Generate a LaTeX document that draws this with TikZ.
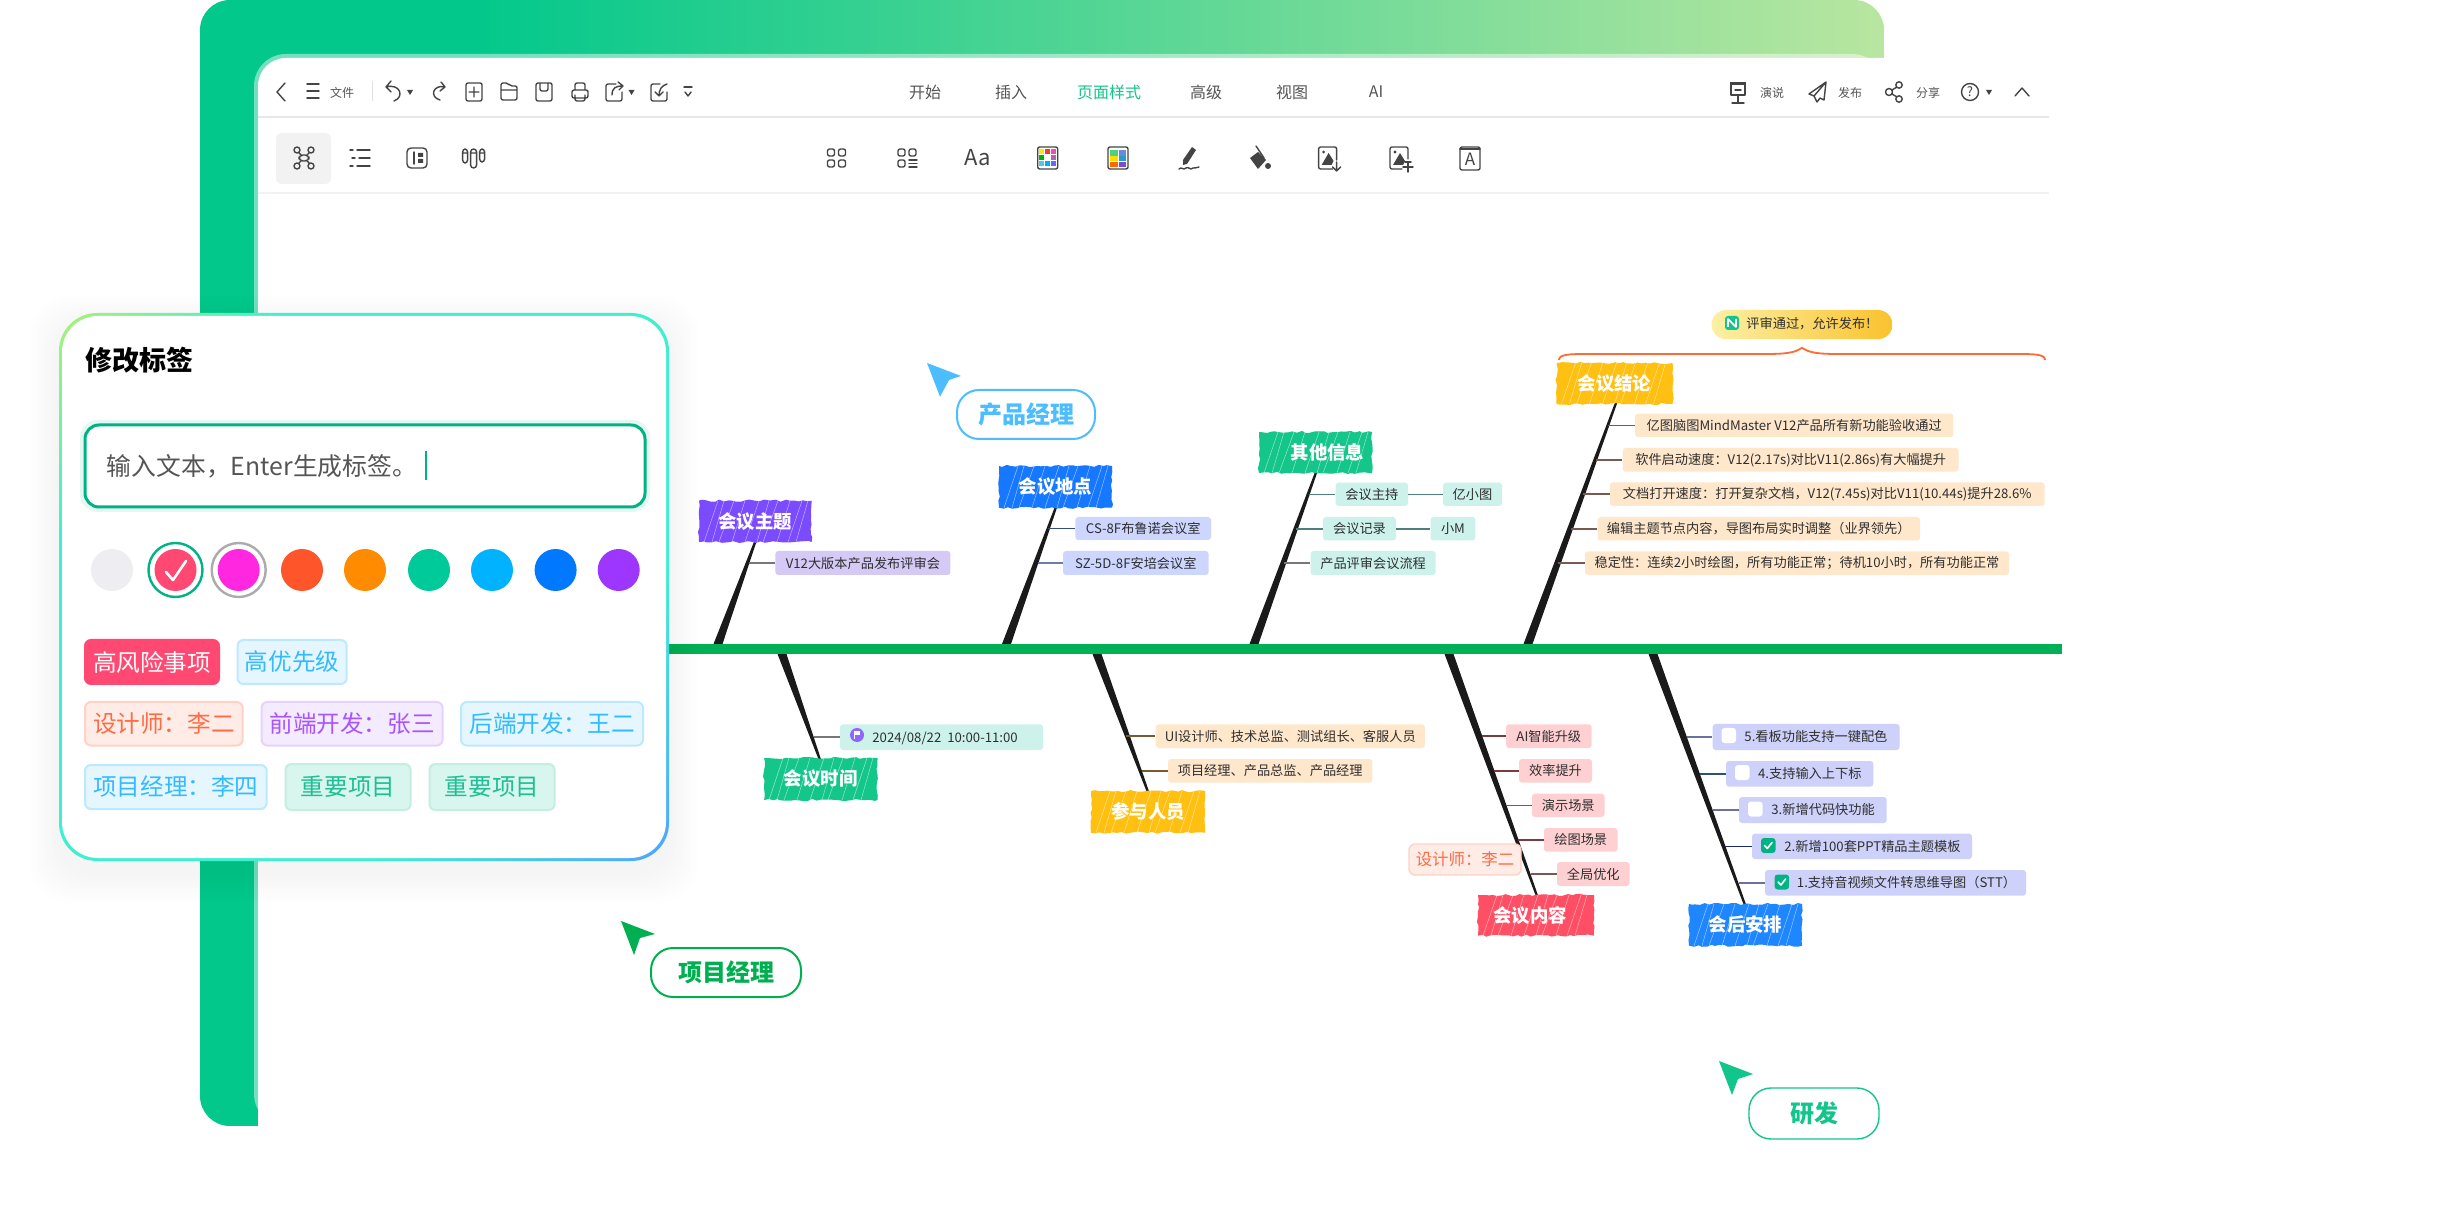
\documentclass[tikz,border=0pt]{standalone}
\usepackage{fontspec}
\setmainfont{Noto Sans CJK SC}
\usetikzlibrary{calc,decorations.pathmorphing}
\definecolor{bandA}{HTML}{02C88B}
\definecolor{bandB}{HTML}{B8E6A0}
\definecolor{edgeA}{HTML}{A8F07A}
\definecolor{edgeB}{HTML}{3FF0CF}
\definecolor{edgeC}{HTML}{4DA6FF}
\definecolor{icongrey}{HTML}{444444}
\definecolor{tbtext}{HTML}{555555}
\definecolor{fresh}{HTML}{00B383}
\definecolor{spine}{HTML}{00B056}
\definecolor{ribblack}{HTML}{1A1A1A}
\definecolor{purpleT}{HTML}{7B4BFF}
\definecolor{blueT}{HTML}{1677FF}
\definecolor{greenT}{HTML}{14C68A}
\definecolor{yellowT}{HTML}{FFC011}
\definecolor{redT}{HTML}{FF4F64}
\definecolor{blueU}{HTML}{1E86FF}
\definecolor{fPurple}{HTML}{D4CAF5}
\definecolor{fBlue}{HTML}{CCD6FF}
\definecolor{fTeal}{HTML}{CDF2EC}
\definecolor{fPeach}{HTML}{FFE7CC}
\definecolor{fPink}{HTML}{FFD0D2}
\definecolor{fLav}{HTML}{CED2FA}
\definecolor{lkGrey}{HTML}{777777}
\definecolor{lkNavy}{HTML}{334D80}
\definecolor{lkSlate}{HTML}{6A7FA8}
\definecolor{lkTeal}{HTML}{4F7F7A}
\definecolor{lkBrown}{HTML}{7A5A50}
\definecolor{lkOlive}{HTML}{7A5A30}
\definecolor{lkMaroon}{HTML}{7A3A40}
\definecolor{lkDeep}{HTML}{1A2A70}
\definecolor{lkLav}{HTML}{6A70A0}
\definecolor{brace}{HTML}{FF6B35}
\definecolor{skyP}{HTML}{4CBDFF}
\definecolor{goP}{HTML}{00B050}
\definecolor{devP}{HTML}{12C58A}
\definecolor{tRed}{HTML}{FF4973}
\definecolor{tBlueF}{HTML}{E6F6FF}
\definecolor{tBlueB}{HTML}{BDE9FF}
\definecolor{tBlueT}{HTML}{33BBFF}
\definecolor{tOrF}{HTML}{FFECE6}
\definecolor{tOrB}{HTML}{FFD2C4}
\definecolor{tOrT}{HTML}{FF6B45}
\definecolor{tPuF}{HTML}{F4EBFF}
\definecolor{tPuB}{HTML}{E6D2FF}
\definecolor{tPuT}{HTML}{A855FF}
\definecolor{tGrF}{HTML}{D8F5EE}
\definecolor{tGrB}{HTML}{C5EDE2}
\definecolor{tGrT}{HTML}{1DBF94}
\definecolor{calloutA}{HTML}{FCF0A5}
\definecolor{calloutB}{HTML}{FAC22E}
\definecolor{swGrey}{HTML}{EDEDF2}
\pgfdeclarehorizontalshading{bandshade}{100bp}{color(0bp)=(bandA); color(33bp)=(bandA); color(75bp)=(bandB); color(100bp)=(bandB)}
\pgfdeclareverticalshading{cardedge}{100bp}{color(0bp)=(edgeC); color(15bp)=(edgeC); color(33bp)=(edgeB); color(72bp)=(edgeB); color(85bp)=(edgeA); color(100bp)=(edgeA)}
\tikzset{
  subtopic/.style={rounded corners=1.5pt,inner sep=0pt,text=black!82,font=\fontsize{6.6}{8}\selectfont},
  sublink/.style={line width=.8pt},
  ribshape/.style={fill=ribblack},
  titletext/.style={inner sep=0pt,text=white,font=\fontsize{9.2}{11}\selectfont\bfseries},
  tagbox/.style={rounded corners=3pt,inner sep=0pt,outer sep=0pt,line width=1pt,font=\fontsize{11.8}{14}\selectfont},
  pillbox/.style={rounded corners=11pt,inner sep=0pt,fill=white,font=\fontsize{12}{14}\selectfont\bfseries},
  tbtextnode/.style={inner sep=0pt,text=tbtext,font=\fontsize{8}{10}\selectfont},
  tbsmall/.style={inner sep=0pt,text=tbtext,font=\fontsize{6}{8}\selectfont},
  ic/.style={draw=icongrey,line width=.7pt,line cap=round,line join=round},
  icf/.style={fill=icongrey},
  swatch/.style={circle,inner sep=0pt,minimum size=21pt}
}
% name x1 x2 y1 y2 fill text
\newcommand\mmsub[7]{%
  \pgfmathsetmacro\mmw{(#3-#2)/2}\pgfmathsetmacro\mmh{(#5-#4)/2}%
  \node[subtopic,fill=#6,minimum width=\mmw pt,minimum height=\mmh pt] (#1) at ({(#2+#3)/2},{(#4+#5)/2}) {#7};}
% name x-on-rib colour
\newcommand\mmlink[3]{\draw[sublink,draw=#3] (#2,0 |- #1.west) -- (#1.west);}
% name x1 x2 y1 y2 colour text
\newcommand\mmtitle[7]{%
  \fill[#6,decorate,decoration={random steps,segment length=2.2pt,amplitude=.55pt}] (#2,#4) rectangle (#3,#5);
  \foreach \o/\d in {5/14,13/12,20/15,33/13,46/14,58/12,64/15,78/13,89/14,97/12}{
    \draw[white,opacity=.55,line width=.25pt] ({#2+\o},#5) -- ({#2+\o+\d},#4);}
  \pgfmathsetmacro\mmw{(#3-#2)/2}\pgfmathsetmacro\mmh{(#5-#4)/2}%
  \node[titletext,minimum width=\mmw pt,minimum height=\mmh pt] (#1) at ({(#2+#3)/2},{(#4+#5)/2}) {#7};}
% spine-coordinate title-coordinate
\newcommand\mmrib[2]{\fill[ribshape] ($(#1)+(-4.5,0)$) -- ($(#1)+(4.5,0)$) -- ($(#2)+(1.2,0)$) -- ($(#2)+(-1.2,0)$) -- cycle;}
% name x1 x2 y1 y2 fill border text-colour text
\newcommand\mmtag[9]{%
  \pgfmathsetmacro\mmw{(#3-#2)/2}\pgfmathsetmacro\mmh{(#5-#4)/2}%
  \node[tagbox,fill=#6,draw=#7,text=#8,minimum width=\mmw pt,minimum height=\mmh pt] (#1) at ({(#2+#3)/2},{(#4+#5)/2}) {#9};}
\newcommand\mmtxt[4]{\node[anchor=west,inner sep=0pt,text=black!82,font=\fontsize{6.6}{8}\selectfont] (#1) at (#2,#3) {#4};}
\newcommand\mmbox[2]{\fill[white,rounded corners=1.5pt] (#1,{#2-7.5}) rectangle ({#1+14.5},{#2+7.5});}
\newcommand\mmtick[2]{\fill[fresh,rounded corners=1.5pt] (#1,{#2-7.5}) rectangle ({#1+14.5},{#2+7.5});
  \draw[white,line width=.8pt,line cap=round,line join=round] ({#1+3.5},#2) -- ({#1+6.3},{#2+3}) -- ({#1+11},{#2-3});}
\newcommand\ictri[2]{\fill[icongrey] ({#1-3},{#2-2}) -- ({#1+3},{#2-2}) -- (#1,{#2+3}) -- cycle;}
\begin{document}
\begin{tikzpicture}[x=0.5pt,y=-0.5pt]
\pgfmathsetseed{4242}
\useasboundingbox (0,0) rectangle (2446,1218);
\fill[white] (0,0) rectangle (2446,1218);
% ---------- app frame
\path[shading=bandshade,rounded corners=15pt] (200,0) rectangle (1884,1126);
\fill[white,opacity=.45,rounded corners=16pt] (254,54) rectangle (1884,1126);
\fill[white,rounded corners=14pt] (258,58) rectangle (2446,1218);
\fill[white] (1884,0) rectangle (2446,58);
\fill[white] (200,1126) rectangle (2446,1218);
\draw[black!9,line width=.8pt] (258,117) -- (2049,117);
\draw[black!5,line width=.8pt] (258,193) -- (2049,193);
\draw[black!12,line width=.7pt] (372.6,81) -- (372.6,101);
% ---------- top row text
\node[tbtextnode] (mStart) at (925,92) {开始};
\node[tbtextnode] (mInsert) at (1011,92) {插入};
\node[tbtextnode,text=greenT] (mPage) at (1109,92) {页面样式};
\node[tbtextnode] (mAdv) at (1206,92) {高级};
\node[tbtextnode] (mView) at (1292,92) {视图};
\node[tbtextnode] (mAI) at (1376,92) {AI};
\node[tbsmall] (mFile) at (342,93) {文件};
\node[tbsmall] (mPres) at (1772,93) {演说};
\node[tbsmall] (mPub) at (1850,93) {发布};
\node[tbsmall] (mShare) at (1928,93) {分享};
% ---------- top row icons
\draw[ic] (285,83) -- (277,92) -- (285,101);
\draw[ic] (307,84) -- (319,84) (307,91) -- (319,91) (307,98) -- (319,98);
\draw[ic] (391,81) -- (386,87) -- (391,92) (386,87) .. controls (400,83) and (405,97) .. (394,101);
\ictri{410}{92}
\draw[ic] (441,82) -- (445,87) -- (440,91) (445,87) .. controls (433,84) and (429,97) .. (440,100);
\draw[ic,rounded corners=1pt] (466,83) rectangle (482,101) (474,87) -- (474,97) (469,92) -- (479,92);
\draw[ic,rounded corners=1pt] (501,100) -- (501,83) -- (508,83) -- (510,86) -- (517,86) -- (517,100) -- cycle (501,90) -- (517,90);
\draw[ic,rounded corners=1pt] (536,83) rectangle (552,101) (540,83) -- (540,91) -- (548,91) -- (548,83);
\draw[ic,rounded corners=1pt] (572,90) rectangle (588,98) (575,90) -- (575,83) -- (585,83) -- (585,90) (575,95) -- (575,101) -- (585,101) -- (585,95);
\draw[ic,rounded corners=1pt] (616,84) -- (606,84) -- (606,101) -- (622,101) -- (622,92);
\draw[ic] (612,95) .. controls (612,88) and (616,86) .. (622,86) (618,82) -- (623,86) -- (619,90);
\ictri{631.5}{92}
\draw[ic,rounded corners=1pt] (660,84) -- (651,84) -- (651,101) -- (667,101) -- (667,92);
\draw[ic] (667,84) .. controls (661,86) and (659,90) .. (659,96) (655,92) -- (659,96) -- (663,92);
\draw[ic] (684,87) -- (692,87);
\draw[ic] (685,92) -- (688,96) -- (691,92);
\draw[ic] (1731,84) rectangle (1745,95);
\fill[icongrey] (1730,82) rectangle (1746,85);
\draw[ic] (1738,95) -- (1738,103) (1732,103) -- (1744,103) (1735,90) -- (1741,90);
\draw[ic] (1826,82) -- (1809,94) -- (1814,96) -- (1817,102) -- (1820,98) -- (1824,100) -- cycle (1826,82) -- (1814,96);
\draw[ic] (1889,92) circle [radius=3.5] (1899,85) circle [radius=3.2] (1899,99) circle [radius=3.2] (1892,90) -- (1897,87) (1892,94) -- (1897,97);
\draw[ic] (1970,92) circle [radius=8.5];
\node[inner sep=0pt,text=icongrey,font=\fontsize{6.5}{8}\selectfont] (mHelp) at (1970,92) {?};
\ictri{1989}{92}
\draw[ic] (2015,96) -- (2022,88) -- (2029,96);
% ---------- second row icons
\fill[black!5,rounded corners=3pt] (276,133) rectangle (331,184);
\begin{scope}[shift={(304,158)},ic]
 \draw (-6,-6) -- (6,6) (6,-6) -- (-6,6);
 \fill[black!5] (-5,-3) rectangle (5,3);
 \draw[rounded corners=2pt] (-5,-3) rectangle (5,3);
 \foreach \a/\b in {-7/-8,7/-8,-7/8,7/8}{\fill[black!5] (\a,\b) circle [radius=3]; \draw (\a,\b) circle [radius=3];}
\end{scope}
\begin{scope}[shift={(360,158)},ic]
 \draw (-10,-8) -- (-7,-8) (-3,-8) -- (10,-8) (-8,0) -- (-5,0) (-1,0) -- (10,0) (-10,8) -- (-7,8) (-3,8) -- (10,8);
\end{scope}
\begin{scope}[shift={(417,158)},ic]
 \draw[rounded corners=2pt] (-10,-10) rectangle (10,10);
 \draw (-3,-6) -- (-3,6);
 \fill[icongrey] (1,-5) rectangle (6,-1) (1,1) rectangle (6,5);
\end{scope}
\begin{scope}[shift={(473.6,158)},ic]
 \draw[rounded corners=1.5pt] (-11,-9) rectangle (-6,5) (-3,-9) rectangle (3,10) (6,-9) rectangle (11,4) (-11,-5) -- (-6,-5) (-3,-5) -- (3,-5) (6,-5) -- (11,-5);
\end{scope}
\begin{scope}[shift={(836.5,158)},ic]
 \draw[rounded corners=1pt] (-9,-9) rectangle (-2,-2) (2,-9) rectangle (9,-2) (-9,2) rectangle (-2,9) (2,2) rectangle (9,9);
\end{scope}
\begin{scope}[shift={(907,158)},ic]
 \draw[rounded corners=1pt] (-9,-9) rectangle (-2,-2) (2,-9) rectangle (9,-2) (-9,2) rectangle (-2,9);
 \draw (2,2) -- (10,2) (2,5.5) -- (10,5.5) (2,9) -- (10,9);
\end{scope}
\node[inner sep=0pt,text=icongrey,font=\fontsize{11}{13}\selectfont] (iconAa) at (977.6,158) {Aa};
\begin{scope}[shift={(1047.7,158)}]
 \draw[ic,rounded corners=1pt] (-10,-11) rectangle (10,11);
 \foreach \px/\py/\pc in {-6/-6/yellow!90!orange,0/-6/red!80!white,6/-6/magenta!70!white,-6/0/green!70!black,6/0/violet!60!white,-6/6/cyan!70!white,0/6/cyan,6/6/blue!60!white}{\fill[\pc] ({\px-2.5},{\py-2.5}) rectangle ({\px+2.5},{\py+2.5});}
\end{scope}
\begin{scope}[shift={(1118,158)}]
 \draw[ic,rounded corners=1pt] (-10,-11) rectangle (10,11);
 \fill[green!50!teal!70!white] (-8,-8) rectangle (-0.5,-2);\fill[blue!50!teal!60!white] (0.5,-8) rectangle (8,-2);
 \fill[yellow!80!orange] (-8,-1.5) rectangle (-0.5,3.5);\fill[cyan!60!teal] (0.5,-1.5) rectangle (8,3.5);
 \fill[orange!80!red] (-8,4) rectangle (-0.5,9);\fill[violet!50!blue!70!white] (0.5,4) rectangle (8,9);
\end{scope}
\begin{scope}[shift={(1189,158)}]
 \fill[icongrey] (-6,2) -- (3,-11) -- (7,-8) -- (-2,6) -- (-6,7) -- cycle;
 \draw[ic] (-10,11) .. controls (-7,8) and (-6,13) .. (-3,10) .. controls (0,8) and (1,13) .. (4,10) .. controls (6,9) and (7,11) .. (10,9);
\end{scope}
\begin{scope}[shift={(1258,158)}]
 \fill[icongrey] (-8,0) -- (0,-6) -- (8,2) -- (0,11) -- cycle;
 \draw[ic] (-2,-12) -- (6,0);
 \fill[icongrey] (10,8) circle [radius=3];
\end{scope}
\begin{scope}[shift={(1328.6,158)}]
 \draw[ic,rounded corners=1pt] (4,11) -- (-10,11) -- (-10,-11) -- (8,-11) -- (8,2);
 \fill[icongrey] (-7,7) -- (0,-5) -- (5,3) -- (3,7) -- cycle;
 \fill[icongrey] (-5,-6) circle [radius=1.6];
 \draw[ic] (8,4) -- (8,13) (4,9) -- (8,13) -- (12,9);
\end{scope}
\begin{scope}[shift={(1400,158)}]
 \draw[ic,rounded corners=1pt] (2,11) -- (-10,11) -- (-10,-11) -- (8,-11) -- (8,1);
 \fill[icongrey] (-7,7) -- (0,-5) -- (5,3) -- (3,7) -- cycle;
 \fill[icongrey] (-5,-6) circle [radius=1.6];
 \draw[ic] (8,4) -- (8,14) (3,9) -- (13,9) (5,4) -- (11,4);
\end{scope}
\draw[ic,rounded corners=1pt] (1460,147) rectangle (1480,170);
\draw[ic] (1460,149) -- (1480,149);
\node[inner sep=0pt,text=icongrey,font=\fontsize{8.5}{10}\selectfont] (iconA) at (1470,159.5) {A};
% ---------- spine
\coordinate (sStart) at (669,649);
\coordinate (sEnd) at (2062,649);
\coordinate (r1) at (718,644); \coordinate (t1) at (755.5,541);
\coordinate (r2) at (1006.5,644); \coordinate (t2) at (1056,507);
\coordinate (r3) at (1254,644); \coordinate (t3) at (1316,472.5);
\coordinate (r4) at (1528,644); \coordinate (t4) at (1616,403);
\coordinate (r5) at (782,654); \coordinate (t5) at (820,760);
\coordinate (r6) at (1097,654); \coordinate (t6) at (1148,792);
\coordinate (r7) at (1449,654); \coordinate (t7) at (1537,896);
\coordinate (r8) at (1653,654); \coordinate (t8) at (1745,905);
\mmrib{r1}{t1}\mmrib{r2}{t2}\mmrib{r3}{t3}\mmrib{r4}{t4}
\mmrib{r5}{t5}\mmrib{r6}{t6}\mmrib{r7}{t7}\mmrib{r8}{t8}
\draw[spine,line width=5pt] (sStart) -- (sEnd);
% ---------- titles
\mmtitle{nTopic}{699}{811.6}{500.7}{542}{purpleT}{会议主题}
\mmtitle{nPlace}{999}{1112}{466}{507.7}{blueT}{会议地点}
\mmtitle{nOther}{1259}{1372}{432}{473}{greenT}{\hspace{12pt}其他信息}
\mmtitle{nResult}{1556.5}{1672.5}{363}{404}{yellowT}{会议结论}
\mmtitle{nTime}{764}{877.5}{758}{800}{greenT}{会议时间}
\mmtitle{nPeople}{1091}{1205}{791}{832.7}{yellowT}{参与人员}
\mmtitle{nContent}{1478}{1594}{895}{935.7}{redT}{\hspace{-6pt}会议内容}
\mmtitle{nAfter}{1689}{1802}{904}{945.7}{blueU}{会后安排}
% ---------- upper subtopics
\mmsub{a1}{775.4}{950.4}{551}{575}{fPurple}{V12大版本产品发布评审会}\mmlink{a1}{749}{lkGrey}
\mmsub{b1}{1075.4}{1211}{517}{540}{fBlue}{CS-8F布鲁诺会议室}\mmlink{b1}{1048}{lkNavy}
\mmsub{b2}{1063}{1208.6}{551}{575}{fBlue}{SZ-5D-8F安培会议室}\mmlink{b2}{1038}{lkSlate}
\mmsub{c1}{1335.6}{1408}{482.7}{506}{fTeal}{会议主持}\mmlink{c1}{1309}{lkTeal}
\mmsub{c1b}{1443}{1502}{482.7}{506}{fTeal}{亿小图}
\draw[sublink,draw=lkTeal] (c1) -- (c1b);
\mmsub{c2}{1323}{1396}{517}{540.5}{fTeal}{会议记录}\mmlink{c2}{1296}{lkTeal}
\mmsub{c2b}{1430.5}{1475.4}{517}{540.5}{fTeal}{小M}
\draw[sublink,draw=lkTeal] (c2) -- (c2b);
\mmsub{c3}{1310.6}{1435.6}{551}{575}{fTeal}{产品评审会议流程}\mmlink{c3}{1283.6}{lkGrey}
\mmsub{d1}{1635}{1953.4}{413.7}{437}{fPeach}{亿图脑图MindMaster V12产品所有新功能验收通过}\mmlink{d1}{1608}{lkBrown}
\mmsub{d2}{1622.7}{1958.7}{448}{471.7}{fPeach}{软件启动速度：V12(2.17s)对比V11(2.86s)有大幅提升}\mmlink{d2}{1595.6}{lkBrown}
\mmsub{d3}{1610}{2044.5}{482.3}{506}{fPeach}{文档打开速度：打开复杂文档，V12(7.45s)对比V11(10.44s)提升28.6\%}\mmlink{d3}{1582.6}{lkBrown}
\mmsub{d4}{1597.5}{1920}{517}{540.5}{fPeach}{编辑主题节点内容，导图布局实时调整（业界领先）}\mmlink{d4}{1571}{lkBrown}
\mmsub{d5}{1585}{2009}{551.3}{575}{fPeach}{稳定性：连续2小时绘图，所有功能正常；待机10小时，所有功能正常}\mmlink{d5}{1557.7}{lkBrown}
% ---------- callout + brace
\node[rounded corners=7.3pt,inner sep=0pt,minimum width=90.5pt,minimum height=14.6pt,left color=calloutA,right color=calloutB] (nCall) at (1802,324.6) {};
\fill[devP,rounded corners=1.5pt] (1725,316) rectangle (1739,330);
\draw[white,line width=.8pt,line join=round] (1728,327) -- (1728,319) -- (1736,327) -- (1736,319);
\node[anchor=west,inner sep=0pt,text=black!82,font=\fontsize{6.6}{8}\selectfont] (nCallT) at (1746,323.5) {评审通过，允许发布！};
\coordinate (bL) at (1559,360); \coordinate (bM) at (1802,347.7); \coordinate (bR) at (2045,360);
\draw[brace,line width=.9pt] (bL) .. controls (1559,354) and (1570,354) .. (1590,354) -- (1765,354) .. controls (1785,354) and (1795,353) .. (bM) .. controls (1809,353) and (1819,354) .. (1839,354) -- (2014,354) .. controls (2034,354) and (2045,354) .. (bR);
% ---------- lower subtopics
\mmsub{e1}{840}{1043}{724.3}{750}{fTeal}{}\mmlink{e1}{814}{lkGrey}
\fill[purpleT!85!white] (857,735) circle [radius=7];
\fill[white] (854.5,731) rectangle (860,735.5);
\draw[white,line width=.5pt] (854.5,731) -- (854.5,739);
\mmtxt{e1t}{872}{738}{2024/08/22\ \ 10:00-11:00}
\mmsub{f1}{1155.7}{1424.8}{724.3}{748}{fPeach}{UI设计师、技术总监、测试组长、客服人员}\mmlink{f1}{1126}{lkOlive}
\mmsub{f2}{1168}{1372.4}{759}{782.7}{fPeach}{项目经理、产品总监、产品经理}\mmlink{f2}{1141.5}{lkOlive}
\mmsub{g1}{1506}{1591.6}{724.3}{748}{fPink}{AI智能升级}\mmlink{g1}{1482}{lkMaroon}
\mmsub{g2}{1519}{1592}{759}{782.7}{fPink}{效率提升}\mmlink{g2}{1494}{lkMaroon}
\mmsub{g3}{1532}{1604.5}{793.7}{817}{fPink}{演示场景}\mmlink{g3}{1506}{lkBrown}
\mmsub{g4}{1544}{1617.5}{828}{851.7}{fPink}{绘图场景}\mmlink{g4}{1518}{lkMaroon}
\mmsub{g5}{1557}{1629.5}{862}{886}{fPink}{全局优化}\mmlink{g5}{1531}{lkBrown}
\mmsub{h5}{1712.6}{1899.6}{724}{750}{fLav}{}\mmlink{h5}{1687}{lkLav}
\mmbox{1721.5}{735.5}\mmtxt{h5t}{1744}{736.5}{5.看板功能支持一键配色}
\mmsub{h4}{1726}{1873.3}{761}{786.7}{fLav}{}\mmlink{h4}{1700}{lkNavy}
\mmbox{1735}{772.5}\mmtxt{h4t}{1757.7}{773}{4.支持输入上下标}
\mmsub{h3}{1739}{1886.7}{797}{823}{fLav}{}\mmlink{h3}{1712.6}{lkLav}
\mmbox{1748}{809}\mmtxt{h3t}{1771}{809.5}{3.新增代码快功能}
\mmsub{h2}{1752}{1972}{833.7}{859}{fLav}{}\mmlink{h2}{1725}{lkDeep}
\mmtick{1761}{845.5}\mmtxt{h2t}{1784}{846}{2.新增100套PPT精品主题模板}
\mmsub{h1}{1765}{2026}{870}{895.7}{fLav}{}\mmlink{h1}{1738.5}{lkLav}
\mmtick{1774.6}{882}\mmtxt{h1t}{1796.5}{882.5}{1.支持音视频文件转思维导图（STT）}
\node[tagbox,fill=tOrF,draw=tOrB,text=tOrT,line width=.7pt,minimum width=56pt,minimum height=15.5pt,font=\fontsize{8.2}{10}\selectfont] (tagDesign) at (1465,859.5) {设计师：李二};
% ---------- role labels
\node[pillbox,draw=skyP,line width=1pt,text=skyP,minimum width=69pt,minimum height=24.5pt] (pPM) at (1026,414.5) {产品经理};
\fill[skyP] (927,363) -- (961,376) -- (949,380) -- (940,396.7) -- cycle;
\node[pillbox,draw=goP,line width=1pt,text=goP,minimum width=75pt,minimum height=24.5pt] (pLead) at (726,972.5) {项目经理};
\fill[goP] (621,921) -- (655,934) -- (640,938) -- (634,955) -- cycle;
\node[pillbox,draw=devP,line width=.7pt,text=devP,minimum width=65pt,minimum height=25.5pt] (pDev) at (1814,1113.5) {研发};
\fill[devP] (1719,1061) -- (1753,1074) -- (1738,1079) -- (1732,1095) -- cycle;
% ---------- card
\foreach \k in {1,...,10}{
  \fill[black,opacity=.005,rounded corners=20pt] ({59-3*\k},{325-3*\k}) rectangle ({669+3*\k},{873+3*\k});}
\path[shading=cardedge,shading angle=45,rounded corners=19pt] (59,313) rectangle (669,861);
\fill[white,rounded corners=18pt] (62,316) rectangle (666,858);
\node[anchor=west,inner sep=0pt,text=black,font=\fontsize{13.5}{16}\selectfont\bfseries] (cardTitle) at (85,360) {修改标签};
\fill[fresh!10,rounded corners=9pt] (80,420) rectangle (650,512);
\node[draw=fresh,fill=white,line width=1.5pt,rounded corners=7pt,minimum width=280pt,minimum height=41pt,inner sep=0pt] (inputBox) at (365,466) {};
\node[anchor=west,inner sep=0pt,text=tbtext,font=\fontsize{12.4}{15}\selectfont] (inputText) at (106.5,466) {输入文本，Enter生成标签。};
\draw[fresh,line width=1pt] (426,451) -- (426,480);
\node[swatch,fill=swGrey] (sw1) at (112,570) {};
\node[swatch,fill=tRed] (sw2) at (175.5,570) {};
\draw[fresh,line width=1.2pt] (sw2) circle [radius=27];
\draw[white,line width=1.3pt,line cap=round,line join=round] (166,572) -- (173,580) -- (186,561);
\node[swatch,fill={rgb,255:red,255;green,40;blue,224}] (sw3) at (238.7,570) {};
\draw[black!33,line width=1.2pt] (sw3) circle [radius=27];
\node[swatch,fill={rgb,255:red,255;green,85;blue,43}] (sw4) at (302,570) {};
\node[swatch,fill={rgb,255:red,255;green,140;blue,0}] (sw5) at (365,570) {};
\node[swatch,fill={rgb,255:red,0;green,201;blue,154}] (sw6) at (429,570) {};
\node[swatch,fill={rgb,255:red,0;green,178;blue,255}] (sw7) at (492,570) {};
\node[swatch,fill={rgb,255:red,0;green,120;blue,255}] (sw8) at (555.6,570) {};
\node[swatch,fill={rgb,255:red,157;green,55;blue,255}] (sw9) at (618.7,570) {};
\mmtag{k1}{85}{219}{640}{684}{tRed}{tRed}{white}{高风险事项}
\mmtag{k2}{237.5}{346.7}{640}{684}{tBlueF}{tBlueB}{tBlueT}{高优先级}
\mmtag{k3}{85}{242.7}{702}{745.5}{tOrF}{tOrB}{tOrT}{设计师：李二}
\mmtag{k4}{261.5}{442.6}{702}{745.5}{tPuF}{tPuB}{tPuT}{前端开发：张三}
\mmtag{k5}{461}{643}{702}{745.5}{tBlueF}{tBlueB}{tBlueT}{后端开发：王二}
\mmtag{k6}{85}{266.7}{765}{809}{tBlueF}{tBlueB}{tBlueT}{项目经理：李四}
\mmtag{k7}{285.5}{410.6}{764}{810}{tGrF}{tGrB}{tGrT}{重要项目}
\mmtag{k8}{429.5}{554.6}{764}{810}{tGrF}{tGrB}{tGrT}{重要项目}
\end{tikzpicture}
\end{document}
